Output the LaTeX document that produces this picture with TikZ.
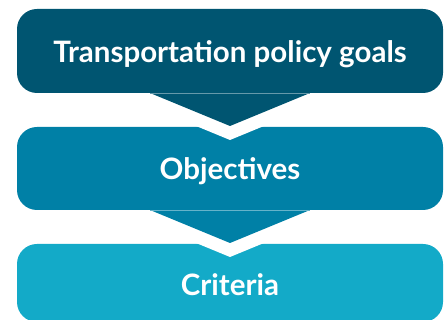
\documentclass[tikz,border=0pt]{standalone}
\usepackage{fontspec}
\setmainfont{Lato}
\definecolor{cA}{HTML}{005571}
\definecolor{cB}{HTML}{0080A6}
\definecolor{cC}{HTML}{13AAC8}
\tikzset{
  box/.style={rounded corners=20pt, minimum width=426pt, minimum height=84pt, inner sep=0pt, text height=29pt, text depth=6pt, text=white, font=\fontsize{29.5}{34}\selectfont\bfseries},
}
\begin{document}
\begin{tikzpicture}[x=1pt,y=-1pt]
\useasboundingbox (0,0) rectangle (448,320);
% boxes
\node[box, fill=cA, minimum height=84pt] (goals) at (230,51) {Transportation policy goals};
\node[box, fill=cB, minimum height=83pt] (obj) at (230,168.5) {Objectives};
\node[box, fill=cC, minimum height=78pt, text height=31pt] (crit) at (230,283) {Criteria};
% notches
\fill[white] (150,107) -- (310,107) -- (230,140) -- cycle;
\fill[white] (150,224) -- (310,224) -- (230,257) -- cycle;
% chevrons
\fill[cA] (150,93) -- (310,93) -- (230,126) -- cycle;
\fill[cB] (150,210) -- (310,210) -- (230,243) -- cycle;
\draw[cA!60!white, line width=0.6pt] (150,93) -- (310,93);
\draw[cB!60!white, line width=0.6pt] (150,210) -- (310,210);
\end{tikzpicture}
\end{document}
